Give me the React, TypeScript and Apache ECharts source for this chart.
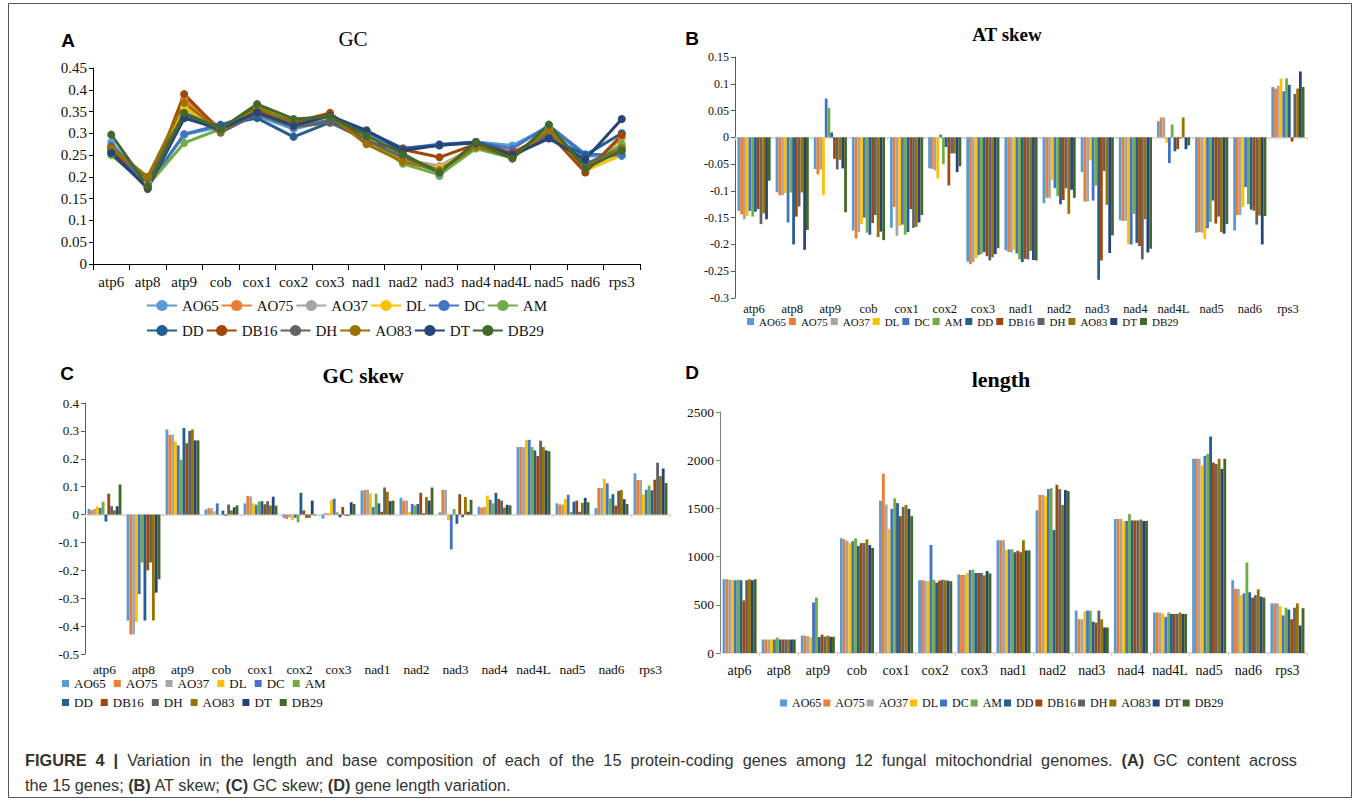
import React, { useEffect, useRef } from "react";
import * as echarts from "echarts";

const genes = ["atp6", "atp8", "atp9", "cob", "cox1", "cox2", "cox3", "nad1", "nad2", "nad3", "nad4", "nad4L", "nad5", "nad6", "rps3"];
const strains = ["AO65", "AO75", "AO37", "DL", "DC", "AM", "DD", "DB16", "DH", "AO83", "DT", "DB29"];
const strainColors = ["#5B9BD5", "#ED7D31", "#A5A5A5", "#FFC000", "#4472C4", "#70AD47", "#255E91", "#9E480E", "#636363", "#997300", "#264478", "#43682B"];

// rows follow `strains`, columns follow `genes`
const gcContent: number[][] = [
  [0.28, 0.18, 0.297, 0.315, 0.34, 0.31, 0.33, 0.3, 0.255, 0.202, 0.28, 0.272, 0.315, 0.248, 0.248],
  [0.262, 0.175, 0.38, 0.31, 0.355, 0.325, 0.345, 0.28, 0.24, 0.215, 0.27, 0.245, 0.31, 0.215, 0.29],
  [0.268, 0.2, 0.36, 0.302, 0.345, 0.315, 0.325, 0.285, 0.24, 0.225, 0.27, 0.245, 0.305, 0.225, 0.27],
  [0.26, 0.19, 0.36, 0.31, 0.36, 0.315, 0.335, 0.285, 0.235, 0.22, 0.27, 0.245, 0.3, 0.215, 0.25],
  [0.27, 0.18, 0.298, 0.32, 0.345, 0.315, 0.33, 0.305, 0.265, 0.275, 0.28, 0.265, 0.318, 0.252, 0.25],
  [0.25, 0.18, 0.278, 0.31, 0.365, 0.33, 0.338, 0.29, 0.23, 0.205, 0.265, 0.243, 0.318, 0.225, 0.275],
  [0.255, 0.175, 0.335, 0.318, 0.335, 0.292, 0.325, 0.305, 0.265, 0.272, 0.28, 0.255, 0.29, 0.25, 0.3],
  [0.262, 0.172, 0.39, 0.305, 0.355, 0.325, 0.347, 0.28, 0.263, 0.245, 0.275, 0.255, 0.3, 0.21, 0.296],
  [0.27, 0.195, 0.345, 0.302, 0.345, 0.315, 0.325, 0.285, 0.245, 0.215, 0.27, 0.245, 0.3, 0.23, 0.265],
  [0.265, 0.2, 0.37, 0.305, 0.36, 0.32, 0.34, 0.275, 0.235, 0.215, 0.27, 0.245, 0.305, 0.22, 0.265],
  [0.255, 0.175, 0.335, 0.31, 0.348, 0.318, 0.34, 0.307, 0.26, 0.273, 0.278, 0.25, 0.288, 0.24, 0.333],
  [0.297, 0.178, 0.347, 0.31, 0.367, 0.333, 0.338, 0.295, 0.252, 0.21, 0.28, 0.242, 0.32, 0.22, 0.26],
];

const atSkew: number[][] = [
  [-0.1375, -0.1025, -0.059, -0.174, -0.169, -0.058, -0.232, -0.211, -0.123, -0.065, -0.155, 0.03, -0.178, -0.174, 0.094],
  [-0.144, -0.108, -0.069, -0.189, -0.13, -0.059, -0.237, -0.214, -0.113, -0.12, -0.156, 0.037, -0.177, -0.145, 0.091],
  [-0.153, -0.108, -0.06, -0.177, -0.184, -0.062, -0.233, -0.215, -0.113, -0.12, -0.156, 0.037, -0.178, -0.145, 0.096],
  [-0.147, -0.104, -0.108, -0.162, -0.165, -0.077, -0.226, -0.21, -0.08, -0.043, -0.2, -0.01, -0.19, -0.13, 0.11],
  [-0.1375, -0.159, 0.0725, -0.15, -0.163, 0.005, -0.22, -0.217, -0.095, -0.118, -0.2, -0.048, -0.17, -0.093, 0.086],
  [-0.148, -0.103, 0.055, -0.178, -0.182, -0.05, -0.218, -0.228, -0.11, -0.09, -0.143, 0.024, -0.158, -0.125, 0.11],
  [-0.139, -0.2, 0.009, -0.182, -0.177, -0.018, -0.214, -0.233, -0.125, -0.266, -0.197, -0.026, -0.118, -0.135, 0.098],
  [-0.134, -0.148, -0.04, -0.16, -0.134, -0.09, -0.222, -0.227, -0.117, -0.23, -0.203, -0.022, -0.161, -0.137, -0.008],
  [-0.162, -0.129, -0.06, -0.145, -0.169, -0.03, -0.23, -0.228, -0.095, -0.063, -0.228, -0.002, -0.148, -0.163, 0.081],
  [-0.142, -0.103, -0.042, -0.186, -0.167, -0.03, -0.224, -0.212, -0.143, -0.126, -0.153, 0.037, -0.177, -0.146, 0.091],
  [-0.153, -0.21, -0.058, -0.176, -0.159, -0.065, -0.218, -0.229, -0.098, -0.216, -0.215, -0.022, -0.18, -0.2, 0.123],
  [-0.081, -0.173, -0.14, -0.192, -0.145, -0.054, -0.207, -0.23, -0.113, -0.183, -0.208, -0.015, -0.162, -0.147, 0.094],
];

const gcSkew: number[][] = [
  [0.02, -0.38, 0.305, 0.018, 0.04, -0.012, -0.015, 0.086, 0.06, 0.008, 0.028, 0.242, 0.04, 0.023, 0.148],
  [0.016, -0.43, 0.286, 0.023, 0.067, -0.016, 0.005, 0.088, 0.05, 0.088, 0.025, 0.242, 0.036, 0.095, 0.124],
  [0.02, -0.43, 0.286, 0.023, 0.065, -0.01, 0.005, 0.089, 0.05, 0.088, 0.027, 0.242, 0.036, 0.095, 0.124],
  [0.028, -0.385, 0.262, 0.012, 0.04, -0.02, 0.052, 0.076, 0.01, -0.02, 0.068, 0.268, 0.056, 0.128, 0.072],
  [0.024, -0.285, 0.248, 0.04, 0.035, -0.012, 0.057, 0.027, 0.038, -0.125, 0.053, 0.268, 0.071, 0.112, 0.089],
  [0.046, -0.172, 0.197, 0.0, 0.047, -0.028, 0.008, 0.075, 0.033, 0.02, 0.04, 0.242, 0.01, 0.058, 0.104],
  [-0.025, -0.38, 0.31, 0.014, 0.048, 0.078, -0.01, 0.04, 0.038, -0.033, 0.078, 0.23, 0.046, 0.073, 0.087],
  [0.075, -0.2, 0.256, -0.004, 0.037, 0.015, 0.027, 0.01, 0.078, 0.073, 0.056, 0.21, 0.05, 0.032, 0.125],
  [0.03, -0.172, 0.3, 0.036, 0.048, -0.012, -0.004, 0.097, 0.005, -0.01, 0.05, 0.265, 0.01, 0.085, 0.186],
  [0.015, -0.38, 0.305, 0.015, 0.033, -0.012, -0.005, 0.082, 0.063, 0.063, 0.025, 0.242, 0.042, 0.088, 0.138],
  [0.03, -0.28, 0.266, 0.026, 0.064, 0.05, 0.044, 0.048, 0.05, 0.01, 0.035, 0.23, 0.06, 0.055, 0.165],
  [0.108, -0.232, 0.266, 0.033, 0.032, -0.003, 0.038, 0.05, 0.097, 0.053, 0.033, 0.227, 0.044, 0.038, 0.113],
];

const geneLength: number[][] = [
  [765, 140, 180, 1190, 1580, 755, 815, 1170, 1480, 440, 1390, 420, 2015, 755, 515],
  [765, 140, 180, 1180, 1860, 755, 810, 1170, 1640, 350, 1390, 420, 2015, 665, 515],
  [760, 140, 175, 1165, 1540, 750, 810, 1170, 1640, 350, 1390, 420, 2015, 665, 515],
  [755, 140, 165, 1140, 1285, 745, 830, 1070, 1625, 430, 1365, 410, 1945, 600, 485],
  [755, 140, 525, 1160, 1495, 1120, 860, 1075, 1700, 440, 1370, 375, 2045, 620, 390],
  [760, 160, 575, 1190, 1605, 760, 865, 1075, 1710, 440, 1440, 420, 2065, 940, 470],
  [755, 140, 165, 1110, 1555, 730, 830, 1045, 1275, 325, 1375, 405, 2245, 630, 450],
  [545, 140, 190, 1140, 1420, 750, 830, 1060, 1745, 315, 1375, 405, 1975, 575, 350],
  [755, 140, 170, 1140, 1515, 760, 830, 1045, 1700, 440, 1375, 405, 1960, 600, 470],
  [765, 140, 180, 1180, 1535, 755, 805, 1170, 1535, 350, 1385, 420, 2015, 660, 515],
  [755, 140, 168, 1120, 1495, 750, 850, 1065, 1690, 265, 1370, 405, 1910, 585, 285],
  [765, 140, 168, 1090, 1420, 745, 825, 1065, 1680, 265, 1370, 405, 2015, 575, 465],
];

// axis ranges: [min, max, interval]
const gcRange = [0, 0.45, 0.05];
const atRange = [-0.3, 0.15, 0.05];
const gcSkewRange = [-0.5, 0.4, 0.1];
const lengthRange = [0, 2500, 500];

const panelTitles = ["GC", "AT skew", "GC skew", "length"];
const panelLetters = ["A", "B", "C", "D"];
// caption words; "*" prefix marks bold words
const captionLine1 = "*FIGURE *4 *| Variation in the length and base composition of each of the 15 protein-coding genes among 12 fungal mitochondrial genomes. *(A) GC content across";
const captionLine2 = "the 15 genes; {b|(B)} AT skew; {b|(C)} GC skew; {b|(D)} gene length variation.";

const SERIF = "Liberation Serif";
const SANS = "Liberation Sans";
const CAPTION_SIZE = 16.3;

function valueAxis(grid: number, range: number[], fontSize: number, lineColor: string) {
  return {
    type: "value",
    gridIndex: grid,
    min: range[0],
    max: range[1],
    interval: range[2],
    axisLine: { show: true, lineStyle: { color: lineColor, width: 1 } },
    axisTick: { show: true, length: 4, lineStyle: { color: lineColor } },
    splitLine: { show: false },
    axisLabel: { fontFamily: SERIF, fontSize, color: "#111", margin: 6, formatter: (v: number) => String(+v.toFixed(4)) },
  };
}

function labelAxis(grid: number, fontSize: number, margin: number) {
  return {
    type: "category",
    gridIndex: grid,
    position: "bottom",
    data: genes,
    axisLine: { show: false, onZero: false },
    axisTick: { show: false },
    axisLabel: { fontFamily: SERIF, fontSize, color: "#111", margin, interval: 0 },
  };
}

function zeroAxis(grid: number) {
  return {
    type: "category",
    gridIndex: grid,
    position: "bottom",
    data: genes,
    axisLine: { show: true, onZero: true, lineStyle: { color: "#d4d4d4", width: 1.5 } },
    axisTick: { show: true, length: 3, lineStyle: { color: "#d4d4d4" } },
    axisLabel: { show: false },
  };
}

function barSeries(prefix: string, matrix: number[][], xIdx: number, yIdx: number) {
  return strains.map((s, i) => ({
    type: "bar",
    name: prefix + ":" + s,
    xAxisIndex: xIdx,
    yAxisIndex: yIdx,
    data: matrix[i],
    barGap: "0%",
    barCategoryGap: "13%",
    itemStyle: { color: strainColors[i] },
    emphasis: { disabled: true },
  }));
}

function squareLegend(prefix: string, names: string[], left: number, top: number, fontSize: number, itemGap: number, textWidth?: number) {
  return {
    data: names.map((n) => prefix + ":" + n),
    formatter: (n: string) => n.split(":")[1],
    left,
    top,
    orient: "horizontal",
    icon: "rect",
    itemWidth: 7,
    itemHeight: 7,
    itemGap,
    selectedMode: false,
    padding: 0,
    textStyle: Object.assign({ fontFamily: SERIF, fontSize, color: "#111" }, textWidth ? { width: textWidth } : {}),
  };
}

// lay out a justified caption line as separate word texts
function justifiedLine(line: string, x0: number, x1: number, y: number) {
  const canvas = document.createElement("canvas");
  const ctx = canvas.getContext("2d") as CanvasRenderingContext2D;
  const words = line.split(" ").map((w) => ({ bold: w.startsWith("*"), text: w.replace(/^\*/, "") }));
  const widths = words.map((w) => {
    ctx.font = (w.bold ? "bold " : "") + CAPTION_SIZE + "px " + SANS;
    return ctx.measureText(w.text).width;
  });
  const total = widths.reduce((a, b) => a + b, 0);
  const gap = (x1 - x0 - total) / (words.length - 1);
  let x = x0;
  return words.map((w, i) => {
    const el = {
      type: "text",
      x,
      y,
      silent: true,
      style: {
        text: w.text,
        fontFamily: SANS,
        fontSize: CAPTION_SIZE,
        fontWeight: w.bold ? "bold" : "normal",
        fill: "#333",
        verticalAlign: "middle",
      },
    };
    x += widths[i] + gap;
    return el;
  });
}

export default function App() {
  const ref = useRef<HTMLDivElement>(null);

  useEffect(() => {
    if (!ref.current) return;
    const chart = echarts.init(ref.current, undefined, { renderer: "svg" });

    const lineSeries = strains.map((s, i) => ({
      type: "line",
      name: "A:" + s,
      xAxisIndex: 0,
      yAxisIndex: 0,
      data: gcContent[i],
      symbol: "circle",
      symbolSize: 8,
      lineStyle: { width: 3, color: strainColors[i] },
      itemStyle: { color: strainColors[i] },
      emphasis: { disabled: true },
    }));

    const lineLegend = (names: string[], top: number) => ({
      data: names.map((n) => "A:" + n),
      formatter: (n: string) => n.split(":")[1],
      left: 146,
      top,
      orient: "horizontal",
      itemWidth: 30,
      itemHeight: 14,
      itemGap: 2,
      selectedMode: false,
      padding: 0,
      textStyle: { fontFamily: SERIF, fontSize: 15, color: "#111", width: 34 },
    });

    const titleText = (x: number, y: number, text: string, size: number, bold: boolean) => ({
      type: "text",
      x,
      y,
      style: {
        text,
        fontFamily: SERIF,
        fontSize: size,
        fontWeight: bold ? "bold" : "normal",
        fill: "#000",
        align: "center",
        verticalAlign: "middle",
      },
    });
    const letterText = (x: number, y: number, text: string) => ({
      type: "text",
      x,
      y,
      style: { text, fontFamily: SANS, fontSize: 19, fontWeight: "bold", fill: "#000", align: "center", verticalAlign: "middle" },
    });

    const option: any = {
      animation: false,
      backgroundColor: "#fff",
      textStyle: { fontFamily: SERIF },
      grid: [
        { left: 93, top: 68, width: 547, height: 196 },
        { left: 735, top: 57, width: 572, height: 241 },
        { left: 85, top: 403, width: 585, height: 251 },
        { left: 720, top: 412, width: 587, height: 241 },
      ],
      xAxis: [
        {
          type: "category",
          gridIndex: 0,
          data: genes,
          axisLine: { show: true, lineStyle: { color: "#000", width: 1 } },
          axisTick: { show: true, length: 6, lineStyle: { color: "#000" } },
          axisLabel: { fontFamily: SERIF, fontSize: 15, color: "#111", margin: 10, interval: 0 },
        },
        labelAxis(1, 12.5, 4),
        zeroAxis(1),
        labelAxis(2, 13.5, 8),
        zeroAxis(2),
        {
          type: "category",
          gridIndex: 3,
          data: genes,
          axisLine: { show: true, lineStyle: { color: "#d4d4d4", width: 1.5 } },
          axisTick: { show: true, length: 3, lineStyle: { color: "#d4d4d4" } },
          axisLabel: { fontFamily: SERIF, fontSize: 14, color: "#111", margin: 10, interval: 0 },
        },
      ],
      yAxis: [
        valueAxis(0, gcRange, 15, "#000"),
        valueAxis(1, atRange, 12, "#595959"),
        valueAxis(2, gcSkewRange, 13, "#595959"),
        valueAxis(3, lengthRange, 13.5, "#7f7f7f"),
      ],
      legend: [
        lineLegend(strains.slice(0, 6), 298),
        lineLegend(strains.slice(6), 323),
        squareLegend("B", strains, 747, 316, 11, 3),
        squareLegend("C", strains.slice(0, 6), 62, 677, 13, 8, 45),
        squareLegend("C", strains.slice(6), 62, 696, 13, 8, 45),
        squareLegend("D", strains, 780, 697, 12, 2),
      ],
      series: [
        ...lineSeries,
        ...barSeries("B", atSkew, 1, 1),
        ...barSeries("C", gcSkew, 3, 2),
        ...barSeries("D", geneLength, 5, 3),
      ],
      graphic: [
        {
          type: "rect",
          shape: { x: 8.5, y: 3.5, width: 1343, height: 794 },
          style: { fill: "none", stroke: "#555", lineWidth: 1 },
          silent: true,
        },
        letterText(68, 40, panelLetters[0]),
        letterText(692, 38, panelLetters[1]),
        letterText(67, 373, panelLetters[2]),
        letterText(692, 372, panelLetters[3]),
        titleText(353, 39, panelTitles[0], 21, false),
        titleText(1007, 34, panelTitles[1], 19, true),
        titleText(363, 376, panelTitles[2], 21, true),
        titleText(1001, 379, panelTitles[3], 22, true),
        ...justifiedLine(captionLine1, 25, 1297, 760),
        {
          type: "text",
          x: 25,
          y: 785,
          style: {
            text: captionLine2,
            fontFamily: SANS,
            fontSize: CAPTION_SIZE,
            fill: "#333",
            verticalAlign: "middle",
            rich: { b: { fontFamily: SANS, fontSize: CAPTION_SIZE, fontWeight: "bold", fill: "#333" } },
          },
        },
      ],
    };

    chart.setOption(option);
    return () => chart.dispose();
  }, []);

  return <div ref={ref} style={{ position: "absolute", left: 0, top: 0, width: 1360, height: 802 }} />;
}
